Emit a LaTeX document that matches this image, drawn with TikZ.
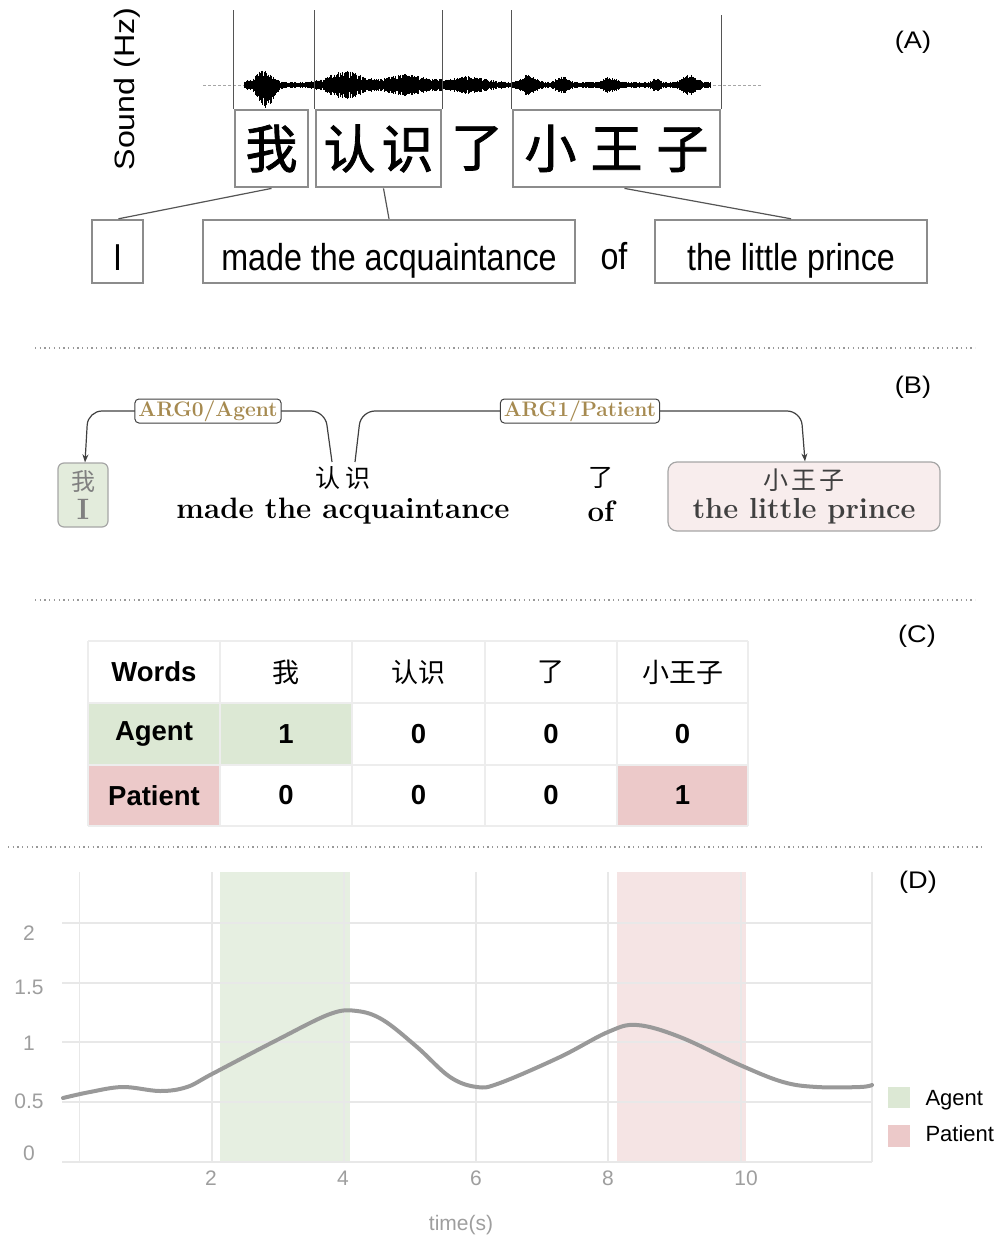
\documentclass[tikz,border=0pt]{standalone}
\usepackage{fontspec}
\newfontfamily\arial{Liberation Sans}
\newfontfamily\arialC[FakeStretch=0.86]{Liberation Sans}
\newfontfamily\arialW[FakeStretch=1.13]{Liberation Sans}
\newfontfamily\arialT[FakeStretch=1.15]{Liberation Sans}
\newfontfamily\cjk{Noto Sans CJK SC}
\newfontfamily\cjkA[FakeBold=1.6]{Noto Sans CJK SC}
\usetikzlibrary{arrows.meta}
\newcommand\sansz[1]{\arial\fontsize{#1}{#1}\selectfont}
\newcommand\cjkz[1]{\cjk\fontsize{#1}{#1}\selectfont}
\newcommand\serz[1]{\fontsize{#1}{#1}\selectfont}
\definecolor{boxgray}{HTML}{8C8C8C}
\definecolor{linegray}{HTML}{555555}
\definecolor{sepgray}{HTML}{999999}
\definecolor{labgold}{HTML}{A68A50}
\definecolor{agentB}{HTML}{E3ECDC}
\definecolor{patientB}{HTML}{F8EDED}
\definecolor{agentT}{HTML}{DCE8D4}
\definecolor{patientT}{HTML}{ECC9C9}
\definecolor{agentP}{HTML}{E6EFE1}
\definecolor{patientP}{HTML}{F5E4E4}
\definecolor{gridgray}{HTML}{E8E8E8}
\definecolor{tickgray}{HTML}{9E9E9E}
\definecolor{curvegray}{HTML}{999999}
\begin{document}
\begin{tikzpicture}[x=1pt,y=-1pt,
  abox/.style={draw=boxgray,line width=2.8pt,inner sep=0pt,font=\cjkA\fontsize{52}{52}\selectfont},
  bbox/.style={draw=boxgray,line width=2.4pt,inner sep=0pt,font=\arialC\fontsize{37.5}{37.5}\selectfont,
    text height=38pt,text depth=0pt},
  conn/.style={draw=linegray,line width=1.2pt},
  vline/.style={draw=linegray,line width=1.2pt},
  sep/.style={draw=sepgray,line width=1.3pt,dash pattern=on 1.3pt off 3.4pt},
  panel/.style={font=\arialW\fontsize{24}{24}\selectfont},
  lab/.style={draw=black!75,line width=1pt,rounded corners=4pt,fill=white,text=labgold,
    font=\serz{21}\bfseries,inner xsep=3.5pt,inner ysep=1.5pt},
  arcp/.style={draw=black!75,line width=1.2pt,rounded corners=14pt},
  arrowtip/.style={-{Stealth[length=8pt,width=6pt]}},
  bword/.style={font=\serz{29.5}\bfseries},
  grid/.style={draw=gridgray,line width=1.6pt},
  tick/.style={font=\sansz{21},text=tickgray},
  cell/.style={font=\sansz{27.5}\bfseries},
  cellc/.style={font=\cjkz{27}}
]
\useasboundingbox (0,0) rectangle (998,1238);

% ---------------- (A) ----------------
\node[panel] (labA) at (913,42) {(A)};
\node[rotate=90,font=\arialT\fontsize{28}{28}\selectfont] (snd) at (127,89) {Sound (Hz)};
\draw[draw=black!35,line width=0.8pt,dash pattern=on 3pt off 2pt] (203,85) -- (762,85);
\pgfmathsetseed{7}
\foreach \x in {244,244.5,...,710}{
  \pgfmathsetmacro\env{3+12*exp(-((\x-263)/11)*((\x-263)/11))
     +11*exp(-((\x-345)/22)*((\x-345)/22))
     +8*exp(-((\x-405)/24)*((\x-405)/24))
     +6*exp(-((\x-465)/26)*((\x-465)/26))
     +7*exp(-((\x-527)/10)*((\x-527)/10))
     +6*exp(-((\x-562)/8)*((\x-562)/8))
     +5*exp(-((\x-610)/9)*((\x-610)/9))
     +4*exp(-((\x-656)/5)*((\x-656)/5))
     +8*exp(-((\x-690)/9)*((\x-690)/9))}
  \pgfmathsetmacro\dn{\env+10*exp(-((\x-268)/8)*((\x-268)/8))}
  \pgfmathsetmacro\r{0.45+0.55*rnd}
  \draw[line width=0.9pt] (\x,85-\env*\r) -- (\x,85+\dn*\r);
}
\node[abox,minimum width=73pt,minimum height=77pt] (wo) at (271.5,148.5) {我};
\node[abox,minimum width=125pt,minimum height=77pt] (rs) at (378.5,148.5) {认\hspace{6pt}识};
\node[font=\cjkA\fontsize{52}{52}\selectfont] (le) at (477,148.5) {了};
\node[abox,minimum width=207pt,minimum height=77pt] (xwz) at (616.5,148.5) {小\hspace{14pt}王\hspace{14pt}子};
\coordinate (v1) at (235,10);
\coordinate (v5) at (720,15);
\draw[vline] (wo.north west) -- (wo.north west |- v1);
\draw[vline] (rs.north west) -- (rs.north west |- v1);
\draw[vline] (rs.north east) -- (rs.north east |- v1);
\draw[vline] (xwz.north west) -- (xwz.north west |- v1);
\draw[vline] (xwz.north east) -- (xwz.north east |- v5);

\node[bbox,minimum width=51pt,minimum height=63pt] (I) at (117.5,251.5) {I};
\node[bbox,minimum width=372pt,minimum height=63pt] (made) at (389,251.5) {made the acquaintance};
\node[font=\arialC\fontsize{37.5}{37.5}\selectfont,anchor=base] (of) at (614,270) {of};
\node[bbox,minimum width=272pt,minimum height=63pt] (prince) at (791,251.5) {the little prince};
\draw[conn] (wo.south) -- ([xshift=1pt]I.north);
\draw[conn] ([xshift=5pt]rs.south) -- (made.north);
\draw[conn] ([xshift=8pt]xwz.south) -- (prince.north);

\draw[sep] (35,348) -- (975,348);

% ---------------- (B) ----------------
\node[panel] (labB) at (913,387) {(B)};
\node[draw=black!35,line width=1.2pt,fill=agentB,rounded corners=6pt,minimum width=50pt,minimum height=64pt,
  inner sep=0pt,align=center,text=black!50] (bI) at (83,495)
  {{\cjkz{24}我}\\[5pt]{\serz{29.5}\bfseries I}};
\node[font=\cjkz{25}] (bRSc) at (343,478) {认\hspace{5pt}识};
\node[bword] (bRSe) at (343,511) {made the acquaintance};
\node[font=\cjkz{25}] (bLEc) at (601,478) {了};
\node[bword] (bLEe) at (601,511) {of};
\node[draw=black!35,line width=1.2pt,fill=patientB,rounded corners=9pt,minimum width=272pt,minimum height=69pt,
  inner sep=0pt,align=center,text=black!75] (bP) at (804,496.5)
  {{\cjkz{25}小\hspace{3pt}王\hspace{3pt}子}\\[6pt]{\serz{29}\bfseries the little prince}};
\coordinate (a0c1) at (325,411);
\coordinate (a0c2) at (88,411);
\draw[arcp,arrowtip] ([xshift=-11pt,yshift=1pt]bRSc.north) -- (a0c1) -- (a0c2) -- ([xshift=2pt]bI.north);
\node[lab] (arg0) at (208,411) {ARG0/Agent};
\coordinate (a1c1) at (361,411);
\coordinate (a1c2) at (801,411);
\draw[arcp,arrowtip] ([xshift=12pt,yshift=1pt]bRSc.north) -- (a1c1) -- (a1c2) -- ([xshift=1pt]bP.north);
\node[lab] (arg1) at (580,411) {ARG1/Patient};

\draw[sep] (35,600) -- (975,600);

% ---------------- (C) ----------------
\node[panel] (labC) at (917,636) {(C)};
\fill[agentT] (88,703) rectangle (352,765);
\fill[patientT] (88,765) rectangle (220,826);
\fill[patientT] (617,765) rectangle (748,826);
\foreach \yy in {641,703,765,826} \draw[draw=black!7,line width=2pt] (88,\yy) -- (748,\yy);
\foreach \xx in {88,220,352,485,617,748} \draw[draw=black!7,line width=2pt] (\xx,641) -- (\xx,826);
\node[cell] (hW) at (154,672) {Words};
\node[cellc] (h1) at (286,672) {我};
\node[cellc] (h2) at (418.5,672) {认识};
\node[cellc] (h3) at (551,672) {了};
\node[cellc] (h4) at (682.5,672) {小王子};
\node[cell] (rA) at (154,734) {Agent};
\node[cell] (a1) at (286,734) {1};
\node[cell] (a2) at (418.5,734) {0};
\node[cell] (a3) at (551,734) {0};
\node[cell] (a4) at (682.5,734) {0};
\node[cell] (rP) at (154,795.5) {Patient};
\node[cell] (p1) at (286,795.5) {0};
\node[cell] (p2) at (418.5,795.5) {0};
\node[cell] (p3) at (551,795.5) {0};
\node[cell] (p4) at (682.5,795.5) {1};

\draw[sep] (8,847) -- (984,847);

% ---------------- (D) ----------------
\node[panel] (labD) at (918,882) {(D)};
\fill[agentP] (220,872) rectangle (350,1162);
\fill[patientP] (617,872) rectangle (746,1162);
\foreach \yy in {923,983,1042,1102,1162} \draw[grid] (62,\yy) -- (872,\yy);
\foreach \xx in {79.5,212,344,476,608,741,872} \draw[grid] (\xx,872) -- (\xx,1162);
\draw[draw=curvegray,line width=4pt,line cap=round] plot[smooth,tension=0.6] coordinates {
 (63,1098) (90,1092) (123,1087) (160,1091) (187,1087) (212,1074) (277,1040) (330,1014) (357,1011)
 (383,1020) (417,1047) (450,1077) (477,1087) (500,1083) (560,1057) (608,1032) (637,1025)
 (680,1037) (740,1065) (783,1082) (817,1087) (860,1087) (872,1085)};
\node[tick] (y2) at (29,933) {2};
\node[tick] (y15) at (29,987) {1.5};
\node[tick] (y1) at (29,1043) {1};
\node[tick] (y05) at (29,1101) {0.5};
\node[tick] (y0) at (29,1153) {0};
\node[tick] (x2) at (211,1178) {2};
\node[tick] (x4) at (343,1178) {4};
\node[tick] (x6) at (476,1178) {6};
\node[tick] (x8) at (608,1178) {8};
\node[tick] (x10) at (746,1178) {10};
\node[tick] (tl) at (461,1225) {time(s)};
\fill[agentT] (888,1087) rectangle (910,1108);
\fill[patientT] (888,1125) rectangle (910,1147);
\node[font=\sansz{22},anchor=west] (legA) at (922,1100) {Agent};
\node[font=\sansz{22},anchor=west] (legP) at (922,1134) {Patient};
\end{tikzpicture}
\end{document}
